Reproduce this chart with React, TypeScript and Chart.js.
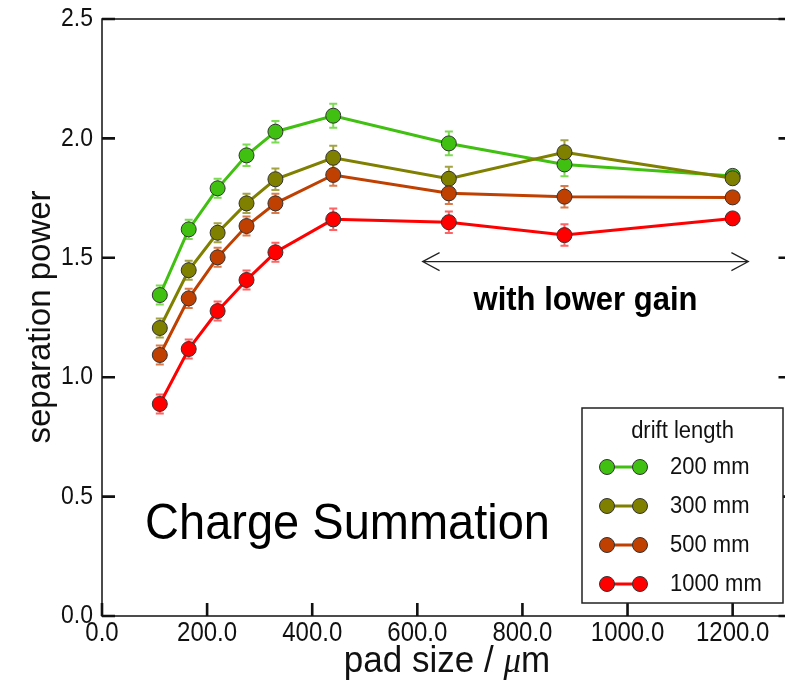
import { useEffect, useRef } from 'react';
import { Chart, registerables } from 'chart.js';

Chart.register(...registerables);

// pad sizes in micrometres
const padSize = [110, 165, 220, 275, 330, 440, 660, 880, 1200];

// separation power per drift length
const power200 = [1.344, 1.619, 1.791, 1.929, 2.028, 2.095, 1.979, 1.891, 1.843];
const power300 = [1.206, 1.448, 1.605, 1.728, 1.829, 1.919, 1.831, 1.942, 1.833];
const power500 = [1.093, 1.33, 1.502, 1.633, 1.728, 1.847, 1.77, 1.756, 1.753];
const power1000 = [0.888, 1.118, 1.277, 1.407, 1.523, 1.661, 1.649, 1.595, 1.665];

const err200 = [0.04, 0.04, 0.04, 0.045, 0.045, 0.05, 0.05, 0.05, 0.01];
const err300 = [0.04, 0.04, 0.04, 0.04, 0.045, 0.05, 0.05, 0.05, 0.01];
const err500 = [0.04, 0.04, 0.04, 0.04, 0.04, 0.045, 0.045, 0.045, 0.01];
const err1000 = [0.04, 0.04, 0.04, 0.04, 0.04, 0.045, 0.045, 0.045, 0.01];

const driftLabels = ['200 mm', '300 mm', '500 mm', '1000 mm'];
const legendTitle = 'drift length';

// "with lower gain" range
const gainRange = [610, 1230];
const gainLevel = 1.484;

const colors = ['#40c010', '#7f7f00', '#bf4000', '#ff0000'];
const errColors = ['rgba(90,210,40,0.8)', 'rgba(140,140,20,0.8)', 'rgba(210,90,30,0.8)', 'rgba(255,60,60,0.8)'];

const FONT = "'Liberation Sans', Arial, sans-serif";

function text(
  ctx: CanvasRenderingContext2D,
  str: string,
  x: number,
  y: number,
  font: string,
  align: CanvasTextAlign,
  baseline: CanvasTextBaseline,
  sy = 1.1
) {
  ctx.save();
  ctx.translate(x, y);
  ctx.scale(1, sy);
  ctx.font = font;
  ctx.textAlign = align;
  ctx.textBaseline = baseline;
  ctx.fillText(str, 0, 0);
  ctx.restore();
}

const errorBars = {
  id: 'errorBars',
  beforeDatasetsDraw(chart: any) {
    const { ctx, scales } = chart;
    ctx.save();
    ctx.lineWidth = 2;
    chart.data.datasets.forEach((ds: any) => {
      ctx.strokeStyle = ds.errColor;
      ds.data.forEach((p: any, j: number) => {
        const e = ds.errors[j];
        const px = scales.x.getPixelForValue(p.x);
        const y0 = scales.y.getPixelForValue(p.y - e);
        const y1 = scales.y.getPixelForValue(p.y + e);
        ctx.beginPath();
        ctx.moveTo(px, y0);
        ctx.lineTo(px, y1);
        ctx.moveTo(px - 4, y0);
        ctx.lineTo(px + 4, y0);
        ctx.moveTo(px - 4, y1);
        ctx.lineTo(px + 4, y1);
        ctx.stroke();
      });
    });
    ctx.restore();
  },
};

const annotations = {
  id: 'annotations',
  afterDatasetsDraw(chart: any) {
    const { ctx, scales } = chart;
    const { x, y } = scales;
    ctx.save();
    ctx.fillStyle = '#000';
    ctx.strokeStyle = '#222';
    ctx.lineWidth = 1.2;
    const ax0 = x.getPixelForValue(gainRange[0]);
    const ax1 = x.getPixelForValue(gainRange[1]);
    const ay = y.getPixelForValue(gainLevel);
    ctx.beginPath();
    ctx.moveTo(ax0, ay);
    ctx.lineTo(ax1, ay);
    ctx.moveTo(ax0 + 17, ay - 9);
    ctx.lineTo(ax0, ay);
    ctx.lineTo(ax0 + 17, ay + 9);
    ctx.moveTo(ax1 - 17, ay - 9);
    ctx.lineTo(ax1, ay);
    ctx.lineTo(ax1 - 17, ay + 9);
    ctx.stroke();

    text(ctx, 'with lower gain', (ax0 + ax1) / 2, y.getPixelForValue(1.32), `bold 31px ${FONT}`, 'center', 'middle', 1.05);
    text(ctx, 'Charge Summation', x.getPixelForValue(82), y.getPixelForValue(0.38), `47px ${FONT}`, 'left', 'middle', 1.05);
    ctx.restore();
  },
};

const frame = {
  id: 'frame',
  afterDraw(chart: any) {
    const { ctx, chartArea, scales } = chart;
    const { left, right, top, bottom } = chartArea;
    const { x, y } = scales;
    ctx.save();
    ctx.strokeStyle = '#111';
    ctx.lineWidth = 1.5;
    ctx.strokeRect(left, top, right - left, bottom - top);

    ctx.lineWidth = 2.6;
    ctx.beginPath();
    x.ticks.forEach((t: any) => {
      const px = x.getPixelForValue(t.value);
      ctx.moveTo(px, bottom);
      ctx.lineTo(px, bottom - 13);
    });
    y.ticks.forEach((t: any) => {
      const py = y.getPixelForValue(t.value);
      ctx.moveTo(left, py);
      ctx.lineTo(left + 13, py);
      ctx.moveTo(right, py);
      ctx.lineTo(right - 13, py);
    });
    ctx.stroke();

    ctx.fillStyle = '#111';
    y.ticks.forEach((t: any) => {
      text(ctx, t.value.toFixed(1), left - 9, y.getPixelForValue(t.value), `23px ${FONT}`, 'right', 'middle', 1.15);
    });
    x.ticks.forEach((t: any) => {
      text(ctx, t.value.toFixed(1), x.getPixelForValue(t.value), bottom + 17, `24px ${FONT}`, 'center', 'middle', 1.15);
    });

    // axis titles
    ctx.save();
    ctx.translate(41, 317);
    ctx.rotate(-Math.PI / 2);
    ctx.font = `33px ${FONT}`;
    ctx.textAlign = 'center';
    ctx.textBaseline = 'middle';
    ctx.fillText('separation power', 0, 0);
    ctx.restore();

    const a = 'pad size / ';
    const mu = 'μ';
    const m = 'm';
    const fMain = `35px ${FONT}`;
    const fMu = `italic 35px 'Liberation Serif', serif`;
    ctx.font = fMain;
    const wa = ctx.measureText(a).width;
    const wm = ctx.measureText(m).width;
    ctx.font = fMu;
    const wmu = ctx.measureText(mu).width;
    let cx = 447 - (wa + wmu + wm) / 2;
    const cy = 662;
    text(ctx, a, cx, cy, fMain, 'left', 'middle', 1.05);
    cx += wa;
    text(ctx, mu, cx, cy, fMu, 'left', 'middle', 1.05);
    cx += wmu;
    text(ctx, m, cx, cy, fMain, 'left', 'middle', 1.05);

    // legend
    const bx = 582;
    const by = 408;
    const bw = 201;
    const bh = 195;
    ctx.fillStyle = '#fff';
    ctx.fillRect(bx, by, bw, bh);
    ctx.strokeStyle = '#222';
    ctx.lineWidth = 1.5;
    ctx.strokeRect(bx, by, bw, bh);
    ctx.fillStyle = '#111';
    text(ctx, legendTitle, bx + bw / 2, by + 23, `22px ${FONT}`, 'center', 'middle', 1.1);
    driftLabels.forEach((lab, i) => {
      const ry = by + 59 + i * 39;
      ctx.strokeStyle = colors[i];
      ctx.lineWidth = 3;
      ctx.beginPath();
      ctx.moveTo(607, ry);
      ctx.lineTo(640, ry);
      ctx.stroke();
      [607, 640].forEach((mx) => {
        ctx.beginPath();
        ctx.arc(mx, ry, 7.5, 0, Math.PI * 2);
        ctx.fillStyle = colors[i];
        ctx.fill();
        ctx.strokeStyle = '#333';
        ctx.lineWidth = 1;
        ctx.stroke();
      });
      ctx.fillStyle = '#111';
      text(ctx, lab, 670, ry, `22px ${FONT}`, 'left', 'middle', 1.1);
    });
    ctx.restore();
  },
};

export default function App() {
  const canvasRef = useRef<HTMLCanvasElement>(null);
  const chartRef = useRef<Chart | null>(null);

  useEffect(() => {
    document.body.style.margin = '0';
    if (!canvasRef.current) {
      return;
    }
    if (chartRef.current) {
      chartRef.current.destroy();
    }
    const ctx = canvasRef.current.getContext('2d');
    if (!ctx) {
      return;
    }

    // drawn bottom-up: 200 mm first, 1000 mm on top
    const series = [power1000, power500, power300, power200];
    const errs = [err1000, err500, err300, err200];
    const idx = [3, 2, 1, 0];

    chartRef.current = new Chart(ctx, {
      type: 'line',
      data: {
        datasets: series.map((vals, k) => ({
          label: driftLabels[idx[k]],
          data: vals.map((v, j) => ({ x: padSize[j], y: v })),
          errors: errs[k],
          errColor: errColors[idx[k]],
          borderColor: colors[idx[k]],
          backgroundColor: colors[idx[k]],
          pointBackgroundColor: colors[idx[k]],
          pointBorderColor: '#333',
          pointBorderWidth: 1,
          pointRadius: 7.5,
          borderWidth: 3,
          tension: 0,
        })) as any,
      },
      options: {
        animation: false,
        responsive: false,
        devicePixelRatio: 1,
        layout: { padding: { top: 19, right: 3, left: 0, bottom: 0 } },
        plugins: {
          legend: { display: false },
          tooltip: { enabled: false },
        },
        scales: {
          x: {
            type: 'linear',
            min: 0,
            max: 1312,
            ticks: { stepSize: 200, display: false },
            grid: { display: false },
            border: { display: false },
            afterBuildTicks: (scale: any) => {
              scale.ticks = scale.ticks.filter((t: any) => t.value % 200 === 0);
            },
            afterFit: (scale: any) => {
              scale.height = 68;
            },
          },
          y: {
            min: 0,
            max: 2.5,
            ticks: { stepSize: 0.5, display: false },
            grid: { display: false },
            border: { display: false },
            afterFit: (scale: any) => {
              scale.width = 102;
            },
          },
        },
      },
      plugins: [errorBars, annotations, frame],
    });

    return () => {
      if (chartRef.current) {
        chartRef.current.destroy();
        chartRef.current = null;
      }
    };
  }, []);

  return (
    <div style={{ width: 785, height: 684, overflow: 'hidden', background: '#fff' }}>
      <canvas ref={canvasRef} width={800} height={684} style={{ width: 800, height: 684 }} />
    </div>
  );
}
